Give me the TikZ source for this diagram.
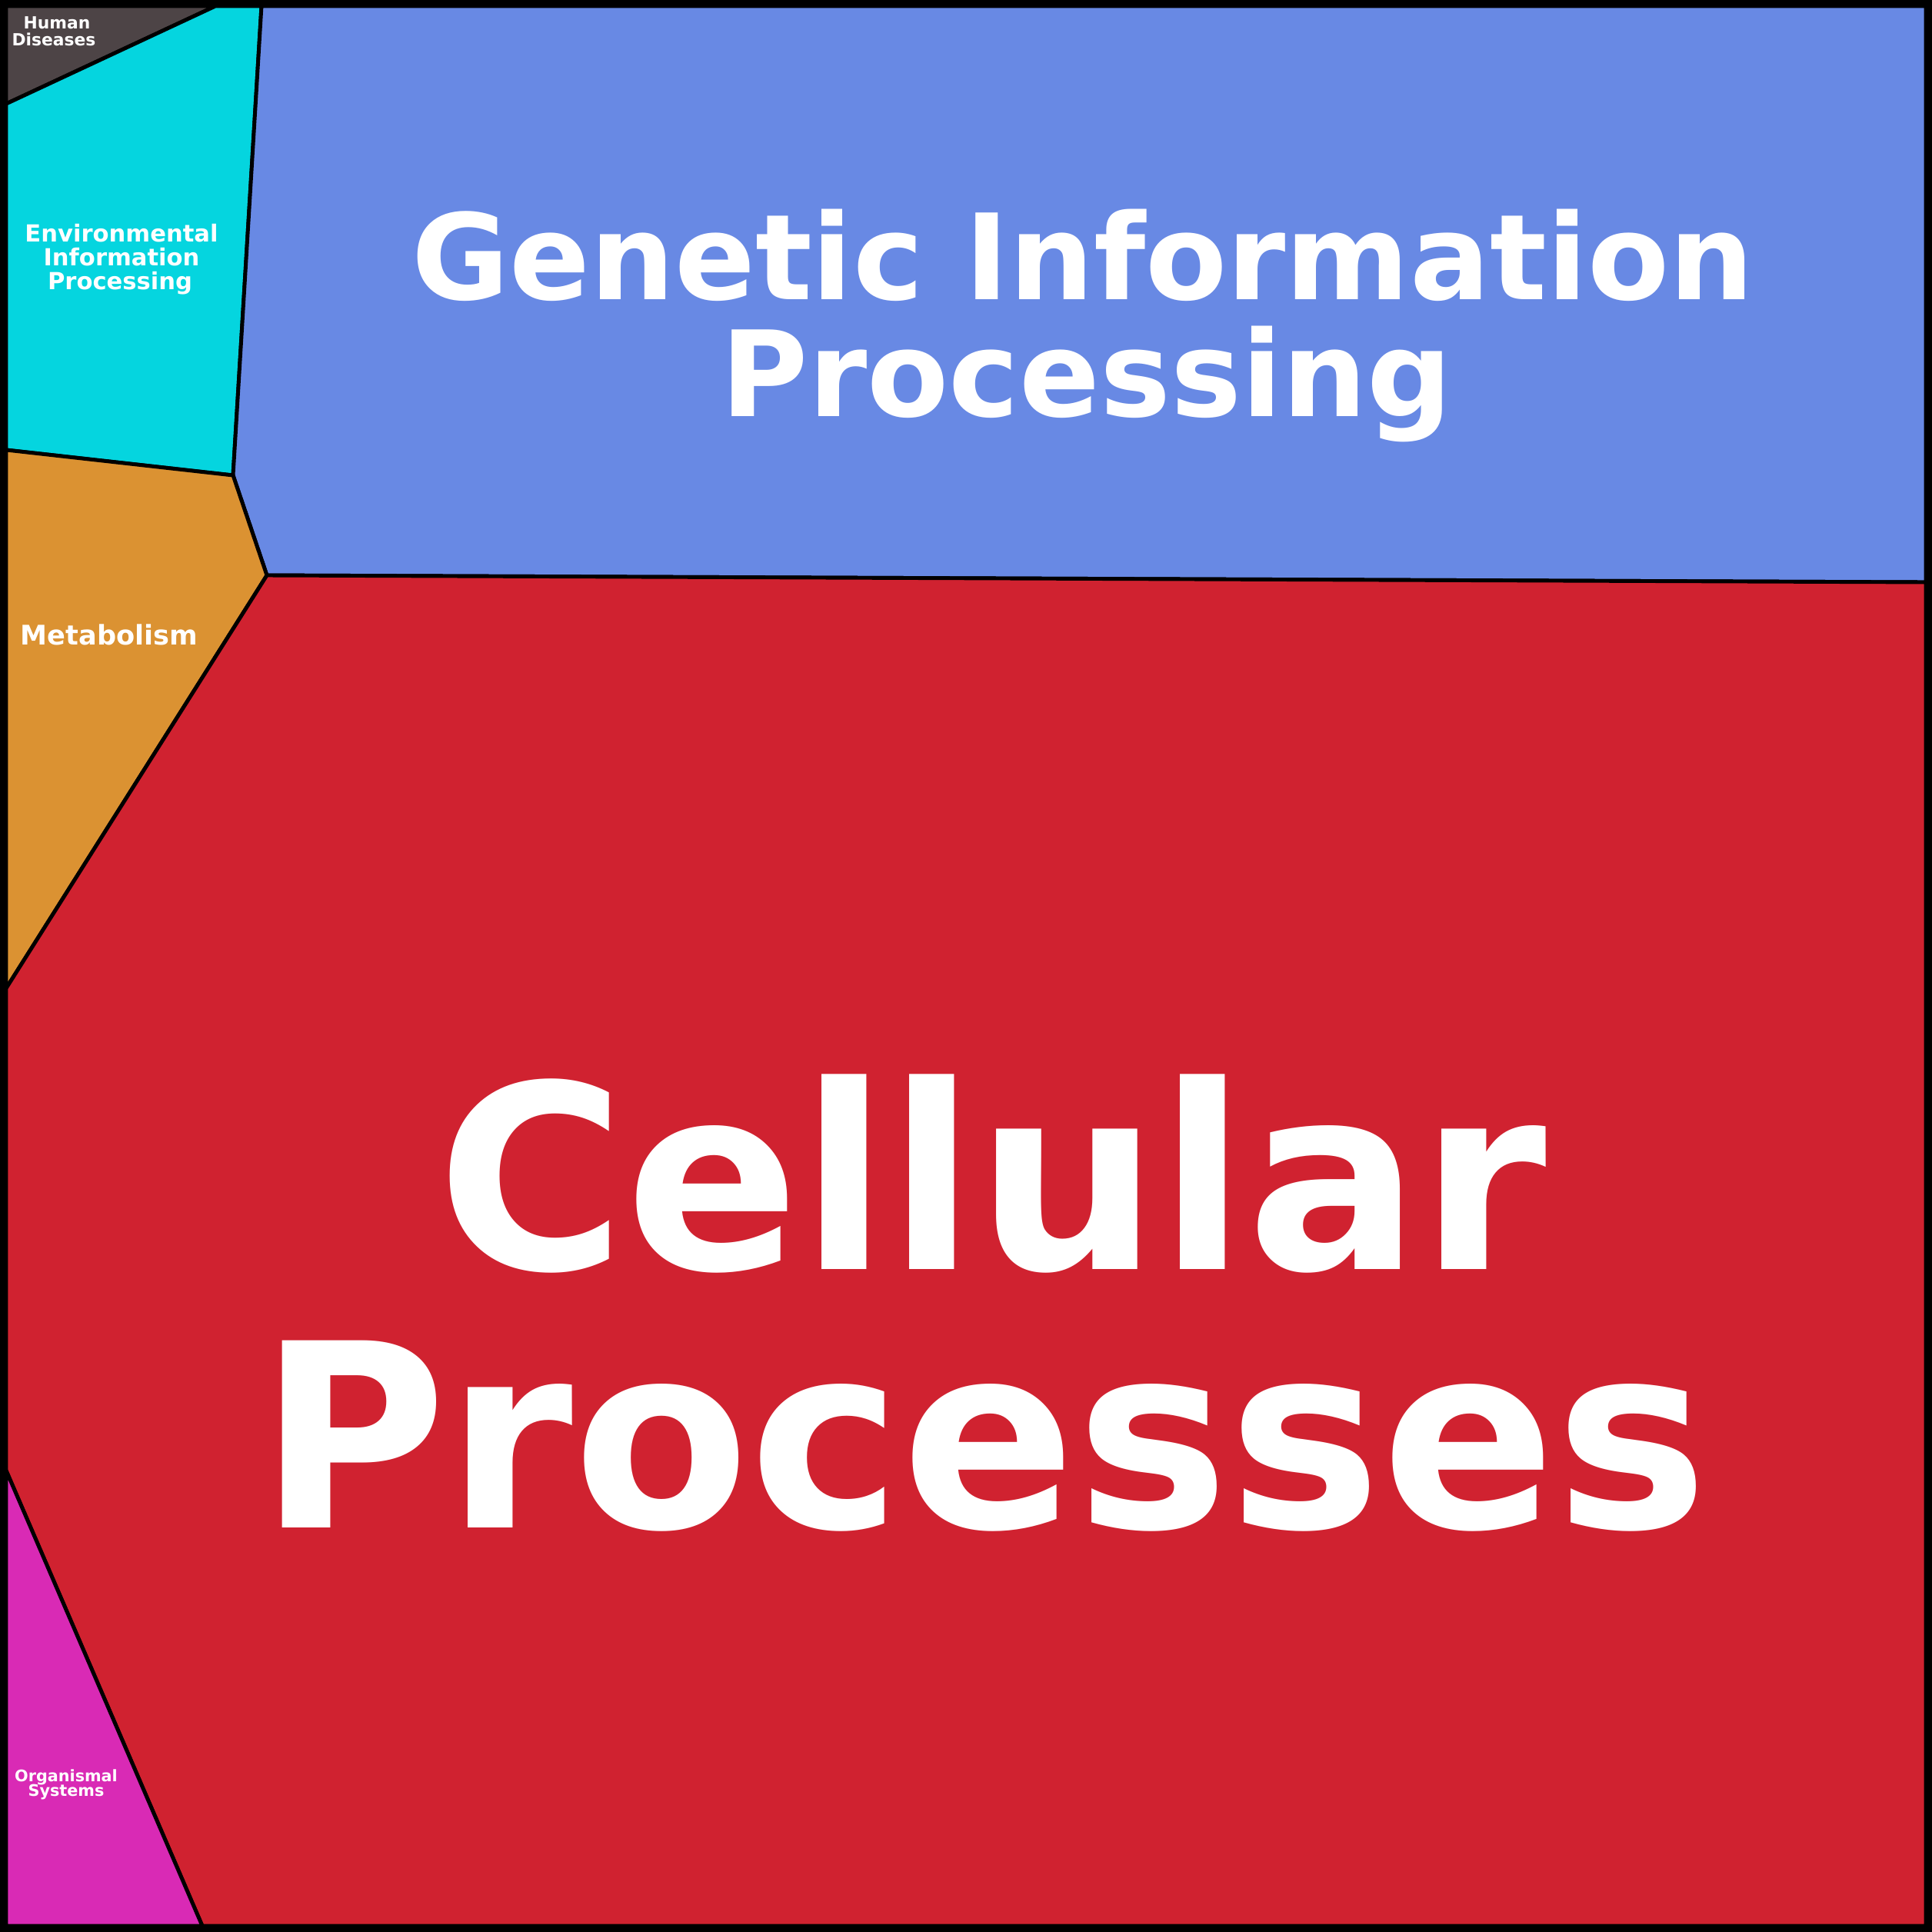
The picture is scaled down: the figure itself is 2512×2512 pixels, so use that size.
\documentclass[tikz,border=0pt]{standalone}
\usepackage{fontspec}
\setmainfont{DejaVu Sans}
\begin{document}
\begin{tikzpicture}[x=0.1mm,y=-0.1mm,
 cell/.style={draw=black,line width=1.4pt,line join=round},
 lbl/.style={text=white,font=\bfseries,anchor=base,inner sep=0pt}]
\useasboundingbox (0,0) rectangle (2512,2512);
\definecolor{hd}{HTML}{4D4446}
\definecolor{env}{HTML}{05D5DF}
\definecolor{gen}{HTML}{6889E4}
\definecolor{met}{HTML}{DB9232}
\definecolor{cel}{HTML}{D02230}
\definecolor{org}{HTML}{D92AB5}
\fill[hd,cell] (8,8)--(280,8)--(8,135)--cycle;
\fill[env,cell] (8,135)--(280,8)--(340,8)--(303,618)--(8,585)--cycle;
\fill[gen,cell] (340,8)--(2504,8)--(2504,757)--(347,748)--(303,618)--cycle;
\fill[met,cell] (8,585)--(303,618)--(347,748)--(8,1285)--cycle;
\fill[cel,cell] (347,748)--(2504,757)--(2504,2504)--(263,2504)--(8,1912)--(8,1285)--cycle;
\fill[org,cell] (8,1912)--(263,2504)--(8,2504)--cycle;
\draw[line width=2.4pt] (4,4) rectangle (2508,2508);
\node[lbl,font=\bfseries\fontsize{6.2}{7}\selectfont] (hd1) at (74,38) {Human};
\node[lbl,font=\bfseries\fontsize{6.2}{7}\selectfont] (hd2) at (70,60) {Diseases};
\node[lbl,font=\bfseries\fontsize{8.7}{9}\selectfont] (en1) at (158,314) {Environmental};
\node[lbl,font=\bfseries\fontsize{8.7}{9}\selectfont] (en2) at (158,345) {Information};
\node[lbl,font=\bfseries\fontsize{8.7}{9}\selectfont] (en3) at (156,376) {Processing};
\node[lbl,font=\bfseries\fontsize{10}{11}\selectfont] (me) at (142,838) {Metabolism};
\node[lbl,font=\bfseries\fontsize{5.9}{6}\selectfont] (or1) at (86,2316) {Organismal};
\node[lbl,font=\bfseries\fontsize{5.9}{6}\selectfont] (or2) at (86,2335) {Systems};
\node[lbl,font=\bfseries\fontsize{44}{45}\selectfont] (ge1) at (1408,389) {Genetic Information};
\node[lbl,font=\bfseries\fontsize{44}{45}\selectfont] (ge2) at (1413,541) {Processing};
\node[lbl,font=\bfseries\fontsize{95}{96}\selectfont] (ce1) at (1290,1650) {Cellular};
\node[lbl,font=\bfseries\fontsize{95}{96}\selectfont] (ce2) at (1279,1986) {Processes};
\end{tikzpicture}
\end{document}
